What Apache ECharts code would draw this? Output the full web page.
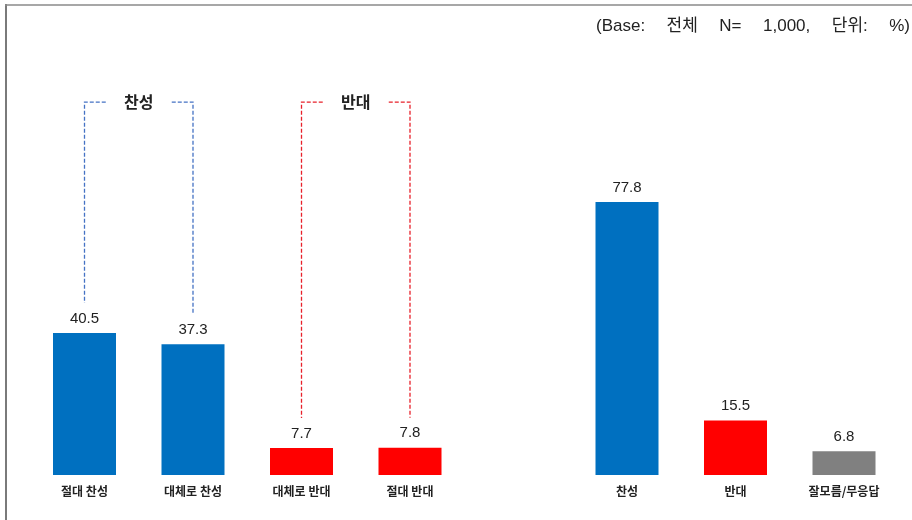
<!DOCTYPE html>
<html>
<head>
<meta charset="utf-8">
<script src="https://cdn.jsdelivr.net/npm/echarts@6/dist/echarts.min.js"></script>
<style>
html,body{margin:0;padding:0;background:#fff;}
#main{width:912px;height:520px;}
</style>
</head>
<body>
<div id="main"></div>
<script>
// ---- data ----
const categories = ['절대 찬성', '대체로 찬성', '대체로 반대', '절대 반대', '', '찬성', '반대', '잘모름/무응답'];
const values = [40.5, 37.3, 7.7, 7.8, null, 77.8, 15.5, 6.8];
const groupLabels = ['찬성', '반대'];
const groupRanges = [[0, 1], [2, 3]];
const noteTokens = ['(Base:', '전체', 'N=', '1,000,', '단위:', '%)'];

// ---- styles / layout ----
const barColors = ['#0070C0', '#0070C0', '#FF0000', '#FF0000', '#fff', '#0070C0', '#FF0000', '#808080'];
const bracketColors = ['#4472C4', '#E8202A'];
const FONT = '"Noto Sans CJK KR", "Liberation Sans", sans-serif';
const NUMFONT = '"Liberation Sans", "Noto Sans CJK KR", sans-serif';
const NOTE_FONT = '17px ' + NUMFONT;
const NOTE_LEFT = 596, NOTE_RIGHT = 910, NOTE_Y = 26;
const BRACKET_TOP = 106.3;

const chart = echarts.init(document.getElementById('main'), null, {renderer: 'canvas'});

const bracketData = groupRanges.map((r, i) => [r[0], r[1], i]);

// spread note tokens evenly across the note span
const mctx = document.createElement('canvas').getContext('2d');
mctx.font = NOTE_FONT;
const widths = noteTokens.map(t => mctx.measureText(t).width);
const totalW = widths.reduce((a, b) => a + b, 0);
const gap = (NOTE_RIGHT - NOTE_LEFT - totalW) / (noteTokens.length - 1);

const graphics = [
  {type: 'line', shape: {x1: 6, y1: 4, x2: 6, y2: 520}, style: {stroke: '#7a7a7a', lineWidth: 2}},
  {type: 'line', shape: {x1: 5, y1: 5, x2: 912, y2: 5}, style: {stroke: '#8a8a8a', lineWidth: 1.5}}
];
let xCur = NOTE_LEFT;
noteTokens.forEach((t, i) => {
  graphics.push({type: 'text', x: xCur, y: NOTE_Y,
    style: {text: t, font: NOTE_FONT, fill: '#222', align: 'left', verticalAlign: 'middle'}});
  xCur += widths[i] + gap;
});

chart.setOption({
  backgroundColor: '#fff',
  animation: false,
  grid: {left: 30.25, right: 13.75, top: 54, bottom: 45},
  xAxis: {
    type: 'category',
    data: categories,
    axisLine: {show: false},
    axisTick: {show: false},
    axisLabel: {fontFamily: FONT, fontSize: 12, fontWeight: 'bold', color: '#222', margin: 10, interval: 0}
  },
  yAxis: {type: 'value', min: 0, max: 120, show: false, splitLine: {show: false}},
  graphic: graphics,
  series: [
    {
      type: 'bar',
      barWidth: 63,
      data: values.map((v, i) => ({value: v, itemStyle: {color: barColors[i]}})),
      label: {
        show: true, position: 'top', distance: 7,
        fontFamily: NUMFONT, fontSize: 15, color: '#222',
        formatter: p => p.value == null ? '' : Number(p.value).toFixed(1)
      }
    },
    {
      type: 'custom',
      clip: false,
      data: bracketData,
      renderItem: function (params, api) {
        const i0 = api.value(0), i1 = api.value(1), g = api.value(2);
        const col = bracketColors[g];
        const pTop0 = api.coord([i0, BRACKET_TOP]);
        const pTop1 = api.coord([i1, BRACKET_TOP]);
        const b0 = api.coord([i0, values[i0]]);
        const b1 = api.coord([i1, values[i1]]);
        const yT = pTop0[1];
        const cx = (pTop0[0] + pTop1[0]) / 2;
        const half = 33;
        const ls = {stroke: col, lineWidth: 1.3, lineDash: [4, 2], fill: null};
        return {
          type: 'group',
          children: [
            {type: 'polyline', shape: {points: [[cx - half, yT], [pTop0[0], yT], [pTop0[0], b0[1] - 30]]}, style: ls},
            {type: 'polyline', shape: {points: [[cx + half, yT], [pTop1[0], yT], [pTop1[0], b1[1] - 30]]}, style: ls},
            {type: 'text', x: cx, y: yT, style: {text: groupLabels[g], font: 'bold 16px ' + FONT, fill: '#222', align: 'center', verticalAlign: 'middle'}}
          ]
        };
      }
    }
  ]
});
</script>
</body>
</html>
